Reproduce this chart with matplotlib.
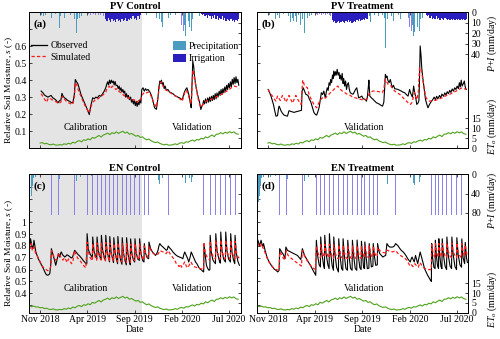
import numpy as np
import matplotlib
matplotlib.use("Agg")
import matplotlib.pyplot as plt
from matplotlib.patches import Patch
from matplotlib.lines import Line2D

plt.rcParams.update({
    "font.family": ["Liberation Serif", "DejaVu Serif"],
    "font.size": 7,
    "mathtext.fontset": "custom",
    "mathtext.rm": "Liberation Serif",
    "mathtext.it": "Liberation Serif:italic",
    "mathtext.bf": "Liberation Serif:bold",
    "axes.linewidth": 0.6,
})

# ---------------------------------------------------------------------------
# Time base: all series are given as (day offset from START, value)
# ---------------------------------------------------------------------------
START = np.datetime64("2018-09-27")
END_DAY = 680
CAL_END_DAY = 362
DATE_TICKS = ["2018-11-01", "2019-04-01", "2019-09-01", "2020-02-01", "2020-07-01"]
DATE_LABELS = ["Nov 2018", "Apr 2019", "Sep 2019", "Feb 2020", "Jul 2020"]

# Reference evapotranspiration (mm/day), weekly from START
ET0_WEEKLY = [3.6, 3.1, 3.4, 2.9, 3.0,
              2.5, 2.7, 2.1, 2.3,
              1.8, 1.6, 2.0, 1.5, 1.4,
              1.7, 1.5, 2.1, 1.8,
              2.4, 2.0, 2.9, 2.5,
              3.3, 3.7, 3.1, 4.1, 3.8,
              4.6, 4.1, 5.3, 4.9,
              5.6, 6.3, 5.5, 6.5,
              6.9, 7.5, 6.7, 7.7, 7.2,
              8.1, 7.3, 7.9, 8.4,
              7.5, 8.0, 6.9, 7.3,
              6.6, 5.9, 6.3, 5.3, 5.6,
              4.7, 4.1, 4.5, 3.6,
              3.1, 2.7, 3.0, 2.3,
              1.9, 1.6, 1.9, 1.4, 1.5,
              1.6, 2.1, 1.7, 2.4,
              2.7, 2.3, 3.1, 2.9,
              3.5, 4.0, 3.4, 4.3, 4.0,
              4.9, 4.5, 5.6, 5.1,
              5.9, 6.5, 5.7, 6.9,
              7.0, 7.7, 7.1, 7.9, 7.4,
              8.2, 7.6, 8.1, 7.2, 6.9]

# ---------------------------- PV site ---------------------------------------
PV_PRECIP = [(40, 2.5), (45, 4), (52, 3), (60, 6), (66, 3), (72, 5), (85, 2),
             (97, 15), (101, 4), (108, 9), (114, 5), (118, 8), (124, 4),
             (128, 9), (133, 3), (140, 12), (146, 6), (152, 20), (155, 6),
             (162, 5), (168, 4), (176, 3), (183, 2),
             (362, 4), (366, 9), (378, 3), (391, 4), (404, 3), (410, 5),
             (414, 34), (419, 6), (425, 9), (428, 14), (433, 4), (440, 8),
             (447, 5), (455, 3), (462, 6), (470, 3), (479, 4), (488, 5),
             (500, 12), (503, 23), (507, 19), (512, 8), (516, 14), (522, 18),
             (526, 6), (533, 5), (540, 3), (548, 4), (556, 2), (570, 3),
             (590, 2)]

PV_CTRL_IRR_EVENTS = [(190, 2), (198, 3), (206, 2), (214, 3), (222, 2.5),
                      (230, 3), (238, 4), (490, 12), (495, 18)]
PV_CTRL_IRR_BINS = [(246, 6), (250, 8), (254, 5), (258, 7), (262, 9), (266, 6),
                    (270, 8), (274, 7), (278, 9), (282, 6), (286, 8), (290, 7),
                    (294, 9), (298, 6), (302, 8), (306, 7), (310, 5), (314, 8),
                    (318, 6), (322, 7), (326, 5), (330, 6), (334, 4), (338, 6),
                    (342, 5), (346, 7), (350, 4), (354, 6), (358, 3),
                    (553, 2), (557, 3), (561, 2), (565, 4), (569, 3), (573, 5),
                    (577, 3), (581, 4), (585, 6), (589, 4), (593, 5), (597, 3),
                    (601, 6), (605, 4), (609, 7), (613, 5), (617, 6), (621, 4),
                    (625, 7), (629, 5), (633, 8), (637, 6), (641, 7), (645, 8),
                    (649, 6), (653, 8), (657, 7), (661, 9), (665, 7), (669, 8),
                    (673, 6)]

PV_TRT_IRR_EVENTS = [(190, 2), (196, 3), (202, 2), (208, 3), (214, 2), (220, 3),
                     (226, 2), (232, 3), (238, 4), (491, 14), (496, 18)]
PV_TRT_IRR_BINS = [(242, 7), (246, 9), (250, 8), (254, 10), (258, 9), (262, 8),
                   (266, 10), (270, 9), (274, 8), (278, 9), (282, 10), (286, 8),
                   (290, 9), (294, 7), (298, 9), (302, 8), (306, 10), (310, 9),
                   (314, 8), (318, 9), (322, 7), (326, 8), (330, 6), (334, 8),
                   (338, 7), (342, 6), (346, 7), (350, 5), (354, 6),
                   (545, 3), (549, 4), (553, 3), (557, 5), (561, 4), (565, 6),
                   (569, 5), (573, 6), (577, 4), (581, 6), (585, 5), (589, 7),
                   (593, 5), (597, 6), (601, 7), (605, 5), (609, 6), (613, 7),
                   (617, 6), (621, 7), (625, 6), (629, 7), (633, 6), (637, 7),
                   (641, 6), (645, 7), (649, 6), (653, 7), (657, 6), (661, 7),
                   (665, 6), (669, 7), (673, 6)]

PV_CTRL_OBS = [(38, .336), (44, .325), (49, .312), (55, .305), (60, .300), (65, .305),
               (70, .310), (76, .295), (81, .290), (87, .280), (92, .266), (97, .278),
               (102, .285), (105, .322), (109, .305), (113, .296), (118, .290), (124, .280),
               (130, .275), (135, .268), (140, .266), (145, .317), (148, .404), (152, .390),
               (156, .380), (161, .350), (166, .317), (172, .290), (179, .260), (186, .230),
               (193, .197), (198, .250), (204, .296), (209, .290), (214, .300), (219, .295),
               (225, .310), (230, .305), (236, .320), (241, .335), (246, .355), (249, .375),
               (252, .390), (255, .372), (258, .400), (261, .380), (264, .400), (267, .385),
               (270, .395), (273, .372), (276, .392), (279, .368), (283, .370), (286, .350),
               (289, .365), (292, .340), (295, .355), (298, .330), (301, .345), (304, .325),
               (307, .335), (310, .300), (313, .320), (316, .295), (319, .310), (322, .285),
               (326, .300), (329, .270), (332, .285), (335, .260), (338, .280), (341, .250),
               (344, .275), (347, .245), (350, .270), (353, .255), (356, .285), (359, .265),
               (362, .345), (366, .355), (370, .335), (374, .350), (377, .340), (382, .345),
               (388, .330), (393, .310), (398, .275), (403, .237), (409, .228), (414, .296),
               (417, .360), (420, .395), (423, .380), (425, .400), (428, .375), (431, .385),
               (434, .350), (437, .365), (441, .340), (446, .345), (451, .330), (457, .325),
               (462, .320), (468, .310), (473, .305), (478, .300), (483, .296), (488, .290),
               (492, .285), (496, .310), (499, .330), (503, .345), (507, .355), (511, .330),
               (515, .300), (518, .265), (521, .237), (524, .400), (526, .513), (529, .480),
               (531, .434), (534, .390), (537, .355), (542, .310), (547, .275), (552, .227),
               (555, .245), (558, .255), (561, .280), (564, .260), (567, .290), (570, .265),
               (574, .295), (577, .270), (580, .300), (583, .275), (586, .305), (589, .280),
               (592, .310), (595, .285), (598, .320), (601, .290), (604, .325), (607, .300),
               (611, .335), (614, .310), (617, .345), (620, .315), (623, .350), (626, .325),
               (629, .360), (632, .335), (635, .370), (638, .345), (641, .380), (644, .355),
               (647, .390), (650, .360), (653, .405), (656, .375), (659, .415), (662, .380),
               (665, .420), (668, .385), (671, .405), (674, .370)]

PV_CTRL_SIM = [(38, .320), (45, .300), (50, .285), (56, .270), (60, .290), (66, .295),
               (72, .285), (81, .280), (88, .270), (95, .262), (102, .272), (106, .305),
               (112, .290), (118, .278), (124, .268), (132, .262), (140, .257), (145, .300),
               (148, .385), (153, .370), (158, .340), (166, .306), (174, .270), (182, .240),
               (193, .207), (198, .240), (203, .267), (210, .280), (218, .285), (225, .296),
               (232, .305), (240, .318), (246, .330), (250, .350), (257, .365), (262, .350),
               (267, .365), (273, .355), (278, .345), (283, .350), (288, .335), (294, .326),
               (299, .320), (304, .310), (310, .305), (315, .300), (320, .295), (326, .290),
               (331, .285), (337, .285), (342, .275), (347, .270), (352, .280), (357, .275),
               (362, .305), (366, .320), (372, .330), (377, .325), (383, .330), (388, .325),
               (393, .300), (398, .280), (403, .260), (409, .240), (414, .300), (420, .380),
               (425, .390), (430, .365), (436, .345), (442, .340), (450, .330), (457, .322),
               (465, .310), (472, .305), (480, .295), (488, .285), (492, .275), (496, .300),
               (500, .325), (505, .340), (510, .320), (515, .290), (521, .260), (524, .380),
               (527, .460), (531, .420), (537, .355), (542, .300), (547, .260), (552, .240),
               (558, .255), (565, .270), (572, .280), (580, .285), (590, .290), (600, .300),
               (610, .310), (620, .318), (630, .330), (640, .340), (650, .355), (660, .365),
               (668, .360), (674, .350)]

PV_TRT_OBS = [(36, .345), (41, .325), (45, .306), (49, .280), (53, .256), (57, .220),
              (61, .188), (66, .190), (69, .230), (71, .247), (74, .235), (77, .220),
              (82, .205), (87, .194), (93, .190), (98, .188), (103, .220), (110, .215),
              (119, .210), (128, .215), (135, .218), (143, .222), (145, .336), (149, .355),
              (153, .335), (157, .317), (164, .310), (168, .290), (173, .272), (178, .240),
              (183, .210), (188, .198), (192, .194), (196, .215), (200, .240), (204, .290),
              (207, .326), (211, .315), (215, .336), (218, .310), (220, .296), (223, .330),
              (226, .355), (229, .340), (232, .385), (235, .370), (237, .404), (240, .385),
              (243, .430), (245, .410), (247, .454), (250, .425), (252, .450), (255, .430),
              (258, .464), (261, .430), (264, .445), (266, .410), (268, .430), (271, .400),
              (274, .440), (277, .380), (279, .410), (282, .365), (285, .395), (288, .345),
              (291, .375), (294, .385), (297, .345), (300, .326), (305, .320), (309, .317),
              (313, .330), (317, .345), (321, .355), (324, .325), (327, .296), (332, .300),
              (337, .306), (342, .290), (348, .287), (352, .276), (355, .300), (358, .355),
              (360, .400), (363, .306), (368, .296), (374, .286), (379, .276), (384, .267),
              (390, .262), (395, .257), (400, .250), (404, .247), (408, .270), (411, .360),
              (413, .434), (416, .415), (418, .424), (421, .400), (425, .385), (429, .404),
              (432, .380), (435, .355), (439, .370), (443, .350), (448, .348), (454, .345),
              (459, .340), (464, .336), (469, .330), (475, .326), (480, .316), (486, .306),
              (491, .345), (495, .320), (500, .300), (504, .365), (507, .330), (510, .306),
              (514, .257), (518, .265), (521, .280), (523, .420), (525, .602), (528, .540),
              (530, .474), (533, .420), (536, .375), (539, .330), (542, .287), (546, .260),
              (550, .237), (555, .257), (560, .272), (566, .287), (570, .300), (574, .285),
              (578, .305), (582, .290), (587, .310), (591, .295), (595, .318), (600, .305),
              (604, .325), (608, .312), (612, .332), (616, .320), (620, .340), (624, .328),
              (628, .348), (632, .335), (636, .355), (640, .345), (644, .365), (648, .350),
              (651, .385), (654, .360), (657, .400), (660, .365), (664, .380), (667, .395),
              (670, .360), (673, .345)]

PV_TRT_SIM = [(36, .345), (43, .320), (50, .306), (55, .290), (61, .276), (66, .306),
              (70, .295), (75, .280), (82, .310), (87, .295), (93, .270), (98, .290),
              (103, .310), (108, .290), (114, .265), (119, .285), (125, .310), (130, .290),
              (135, .275), (142, .257), (147, .400), (150, .385), (153, .365), (158, .360),
              (162, .355), (167, .320), (172, .296), (178, .275), (183, .257), (188, .245),
              (192, .237), (199, .267), (205, .285), (210, .296), (215, .290), (220, .295),
              (228, .310), (236, .326), (242, .335), (247, .345), (253, .355), (260, .365),
              (266, .350), (274, .336), (280, .330), (290, .317), (300, .310), (308, .300),
              (316, .296), (324, .292), (332, .287), (340, .285), (348, .283), (353, .290),
              (358, .310), (363, .326), (368, .332), (374, .336), (382, .335), (390, .333),
              (397, .330), (403, .326), (408, .345), (412, .404), (416, .395), (422, .375),
              (427, .370), (432, .365), (437, .350), (443, .336), (450, .326), (459, .317),
              (467, .302), (475, .287), (481, .276), (486, .267), (490, .262), (494, .257),
              (499, .270), (503, .300), (507, .326), (511, .300), (515, .285), (519, .330),
              (523, .474), (526, .470), (529, .454), (533, .410), (536, .375), (540, .330),
              (544, .296), (550, .282), (555, .276), (562, .278), (571, .280), (580, .284),
              (590, .292), (600, .300), (610, .310), (620, .316), (630, .326), (640, .335),
              (650, .345), (656, .352), (661, .355), (667, .350), (673, .345)]

# ---------------------------- EN site ---------------------------------------
EN_PRECIP = [(2, 20), (5, 57), (8, 45), (11, 25), (14, 8), (20, 5), (35, 4),
             (44, 6), (60, 3), (98, 10), (146, 8), (152, 14), (165, 6), (200, 3),
             (415, 12), (419, 20), (428, 8), (495, 10), (503, 18), (507, 22),
             (515, 8), (522, 16), (526, 6)]

EN_CTRL_IRR = [(71, 85), (94, 85), (145, 85), (186, 85), (204, 85), (218, 85),
               (232, 85), (246, 85), (259, 85), (272, 85), (285, 85), (299, 85),
               (313, 85), (326, 85), (340, 85), (355, 85), (370, 85), (385, 85),
               (447, 85), (562, 85), (582, 85), (600, 85), (616, 85), (632, 85),
               (648, 85), (662, 85)]

EN_TRT_IRR = [(73, 85), (94, 85), (146, 85), (191, 85), (205, 85), (218, 85),
              (233, 85), (247, 85), (263, 85), (277, 85), (292, 85), (307, 85),
              (322, 85), (336, 85), (347, 85), (361, 85), (374, 85), (388, 85),
              (446, 85), (562, 85), (574, 85), (585, 85), (596, 85), (611, 85),
              (627, 85), (643, 85), (659, 85)]

EN_CTRL_OBS = [(0, .880), (2, .810), (4, .861), (7, .820), (10, .777), (13, .800),
               (15, .848), (18, .800), (21, .749), (25, .720), (29, .692), (34, .665),
               (40, .636), (45, .610), (50, .580), (54, .560), (58, .552), (62, .555),
               (66, .566), (69, .640), (71, .777), (74, .750), (77, .720), (81, .680),
               (85, .636), (89, .680), (94, .735), (96, .720), (98, .706), (101, .740),
               (103, .749), (107, .725), (111, .715), (114, .706), (118, .715), (121, .725),
               (125, .720), (129, .712), (132, .705), (135, .698), (139, .705), (143, .740),
               (146, .763), (150, .750), (153, .740), (157, .727), (161, .718), (165, .706),
               (170, .690), (174, .675), (178, .664), (182, .650), (185, .648),
               (186, .904), (190, .770), (196, .730), (203, .700),
               (204, .876), (208, .760), (213, .715), (217, .692),
               (218, .876), (222, .760), (227, .710), (231, .685),
               (232, .890), (236, .765), (241, .705), (245, .675),
               (246, .890), (250, .760), (255, .700), (258, .665),
               (259, .880), (263, .750), (268, .690), (271, .660),
               (272, .870), (276, .745), (281, .685), (284, .650),
               (285, .880), (289, .745), (294, .680), (298, .645),
               (299, .870), (303, .740), (308, .675), (312, .640),
               (313, .870), (317, .740), (322, .670), (325, .640),
               (326, .860), (330, .735), (335, .680), (339, .664),
               (340, .861), (344, .740), (349, .690), (354, .678),
               (355, .861), (359, .740), (365, .675), (369, .664),
               (370, .820), (374, .740), (379, .700), (384, .692),
               (385, .833), (390, .780), (396, .749), (401, .735), (406, .720), (410, .735),
               (414, .763), (417, .800), (420, .820), (424, .805), (430, .791), (436, .775),
               (441, .763), (444, .770), (447, .800), (451, .785), (454, .777), (458, .765),
               (462, .749), (467, .735), (473, .720), (478, .712), (484, .706), (489, .700),
               (494, .692), (497, .725), (500, .749), (504, .725), (507, .706), (510, .690),
               (513, .664), (517, .700), (521, .749), (525, .725), (528, .706), (531, .690),
               (535, .664), (539, .650), (542, .636), (545, .620), (548, .608), (552, .600),
               (555, .594), (558, .585), (561, .580),
               (562, .820), (566, .720), (570, .636), (574, .610), (578, .594), (581, .600),
               (582, .890), (586, .740), (591, .680), (595, .664), (599, .650),
               (600, .904), (604, .760), (609, .700), (613, .660), (615, .655),
               (616, .918), (620, .760), (625, .690), (631, .664),
               (632, .918), (636, .760), (641, .690), (647, .664),
               (648, .904), (652, .750), (657, .680), (661, .650),
               (662, .890), (666, .740), (671, .670), (676, .636)]

EN_CTRL_SIM = [(0, .800), (3, .780), (6, .820), (10, .760), (15, .790), (20, .740),
               (25, .720), (30, .690), (36, .660), (42, .630), (48, .610), (54, .600),
               (60, .590), (66, .600), (70, .640), (72, .760), (76, .740), (80, .700),
               (85, .680), (90, .690), (94, .740), (98, .720), (103, .700), (108, .680),
               (113, .700), (118, .680), (122, .660), (126, .690), (131, .670), (136, .650),
               (141, .680), (145, .760), (150, .730), (155, .700), (160, .680), (165, .670),
               (170, .650), (176, .630), (182, .615),
               (186, .830), (190, .750), (196, .700), (203, .675),
               (204, .820), (208, .745), (213, .700), (217, .680),
               (218, .825), (222, .745), (227, .700), (231, .680),
               (232, .830), (236, .745), (241, .695), (245, .675),
               (246, .830), (250, .745), (255, .695), (258, .670),
               (259, .825), (263, .740), (268, .690), (271, .670),
               (272, .820), (276, .740), (281, .690), (284, .665),
               (285, .825), (289, .740), (294, .690), (298, .665),
               (299, .820), (303, .735), (308, .685), (312, .660),
               (313, .820), (317, .735), (322, .685), (325, .660),
               (326, .815), (330, .735), (335, .690), (339, .675),
               (340, .820), (344, .740), (349, .700), (354, .685),
               (355, .820), (359, .740), (365, .695), (369, .680),
               (370, .800), (374, .745), (379, .715), (384, .705),
               (385, .800), (390, .770), (396, .745), (405, .725), (414, .730), (420, .760),
               (430, .750), (440, .735), (447, .760), (455, .725), (462, .700), (468, .680),
               (473, .650), (478, .640), (482, .625), (486, .645), (490, .620), (495, .640),
               (500, .665), (505, .630), (510, .615), (515, .640), (520, .665), (525, .640),
               (530, .625), (535, .620), (541, .615), (548, .610), (555, .605), (561, .600),
               (562, .830), (566, .745), (572, .705), (581, .680),
               (582, .840), (586, .750), (592, .705), (599, .690),
               (600, .850), (604, .755), (610, .705), (615, .690),
               (616, .850), (620, .755), (626, .705), (631, .690),
               (632, .850), (636, .755), (642, .705), (647, .690),
               (648, .845), (652, .750), (658, .705), (661, .690),
               (662, .840), (666, .750), (672, .705), (676, .695)]

EN_TRT_OBS = [(0, .860), (3, .848), (8, .800), (13, .848), (18, .791), (21, .820),
              (26, .763), (32, .706), (39, .664), (45, .640), (50, .622), (55, .605),
              (61, .594), (67, .580), (71, .594), (73, .777), (79, .749), (85, .727),
              (90, .692), (93, .791), (98, .763), (108, .749), (119, .735), (130, .720),
              (141, .685), (146, .777), (153, .720), (162, .678), (172, .636), (183, .580),
              (189, .552),
              (191, .848), (195, .720), (200, .640), (204, .622),
              (205, .876), (209, .730), (214, .640), (217, .608),
              (218, .890), (222, .740), (228, .640), (232, .608),
              (233, .904), (237, .740), (242, .630), (246, .594),
              (247, .876), (251, .730), (256, .620), (262, .580),
              (263, .861), (267, .720), (272, .610), (276, .594),
              (277, .861), (281, .720), (286, .610), (291, .594),
              (292, .848), (296, .715), (301, .610), (306, .594),
              (307, .848), (311, .715), (316, .610), (321, .594),
              (322, .850), (326, .715), (331, .615), (335, .600),
              (336, .840), (340, .715), (343, .615), (346, .608),
              (347, .834), (351, .710), (355, .608), (360, .612),
              (361, .820), (365, .705), (368, .622), (373, .630),
              (374, .820), (378, .710), (382, .636), (387, .640),
              (388, .820), (392, .760), (395, .735), (400, .720), (405, .706), (410, .715),
              (414, .720), (418, .820), (423, .800), (427, .791), (432, .790), (437, .791),
              (442, .800), (446, .820), (450, .810), (454, .800), (459, .780), (464, .763),
              (470, .750), (475, .735), (480, .715), (485, .692), (490, .675), (493, .664),
              (496, .690), (499, .706), (503, .680), (506, .665), (510, .720), (513, .690),
              (517, .650), (521, .700), (525, .749), (528, .720), (531, .692), (535, .650),
              (539, .608), (544, .580), (549, .552), (554, .530), (558, .510), (561, .500),
              (562, .820), (565, .700), (569, .620), (573, .608),
              (574, .848), (577, .720), (581, .630), (584, .610),
              (585, .861), (588, .720), (592, .625), (595, .608),
              (596, .861), (600, .720), (605, .630), (610, .600),
              (611, .876), (615, .730), (621, .630), (626, .608),
              (627, .876), (631, .730), (637, .625), (642, .600),
              (643, .870), (647, .730), (653, .640), (658, .620),
              (659, .860), (663, .700), (668, .650), (670, .830), (674, .700), (677, .660)]

EN_TRT_SIM = [(0, .820), (5, .810), (10, .790), (15, .820), (20, .780), (25, .750),
              (32, .700), (40, .660), (48, .630), (55, .610), (62, .600), (68, .595),
              (72, .600), (73, .750), (78, .730), (84, .700), (90, .680), (94, .760),
              (100, .720), (108, .700), (115, .685), (122, .670), (130, .655), (138, .640),
              (143, .630), (146, .760), (152, .720), (158, .690), (165, .660), (172, .635),
              (180, .615), (188, .600),
              (191, .800), (195, .750), (200, .715), (204, .700),
              (205, .810), (209, .755), (214, .720), (217, .705),
              (218, .815), (222, .755), (228, .715), (232, .700),
              (233, .815), (237, .755), (242, .710), (246, .695),
              (247, .810), (251, .750), (256, .705), (262, .690),
              (263, .810), (267, .750), (272, .705), (276, .695),
              (277, .805), (281, .745), (286, .705), (291, .690),
              (292, .805), (296, .745), (301, .700), (306, .690),
              (307, .800), (311, .745), (316, .700), (321, .690),
              (322, .800), (326, .745), (331, .705), (335, .695),
              (336, .800), (340, .745), (343, .710), (346, .700),
              (347, .800), (351, .745), (355, .710), (360, .700),
              (361, .800), (365, .745), (368, .715), (373, .705),
              (374, .800), (378, .745), (382, .720), (387, .710),
              (388, .790), (395, .760), (405, .745), (414, .740), (418, .765), (427, .755),
              (437, .750), (446, .760), (454, .735), (464, .715), (474, .700), (482, .680),
              (488, .650), (492, .630), (497, .640), (502, .625), (508, .650), (514, .630),
              (519, .620), (524, .660), (529, .640), (534, .620), (540, .610), (546, .605),
              (552, .600), (558, .600), (561, .598),
              (562, .810), (566, .750), (570, .715), (573, .700),
              (574, .820), (578, .755), (581, .720), (584, .705),
              (585, .820), (589, .755), (592, .720), (595, .705),
              (596, .820), (600, .755), (605, .715), (610, .700),
              (611, .825), (615, .755), (621, .715), (626, .700),
              (627, .825), (631, .755), (637, .715), (642, .700),
              (643, .825), (647, .755), (653, .715), (658, .700),
              (659, .820), (663, .750), (668, .710), (670, .810), (674, .745), (677, .720)]

# ---------------------------------------------------------------------------
C_OBS = "black"
C_SIM = "#ff1a1a"
C_ET = "#4ea21b"
C_PRECIP = "#4a9cc0"
C_IRR = "#2a1ebe"
C_IRR_EVENT = "#8a82ea"
C_CAL = "#e4e4e4"


def to_dt(days):
    return START + np.asarray(days, dtype=int).astype("timedelta64[D]")


def unzip(pairs):
    d, v = zip(*pairs)
    return to_dt(d), np.asarray(v, dtype=float)


ET0_DAYS = np.arange(len(ET0_WEEKLY)) * 7
ET0_VALUES = np.asarray(ET0_WEEKLY)


def panel(ax, title, tag, obs, sim, precip, irr_events, irr_bins, et_from,
          s_lim, s_ticks, s_labels, pi_lim, pi_ticks, et_lim,
          show_cal, left_col, bottom_row, text_y, right_label_y):
    x0, x1 = START, START + np.timedelta64(END_DAY, "D")
    if show_cal:
        ax.axvspan(x0, START + np.timedelta64(CAL_END_DAY, "D"),
                   color=C_CAL, lw=0, zorder=0)
    ox, oy = unzip(obs)
    sx, sy = unzip(sim)
    ax.plot(ox, oy, color=C_OBS, lw=0.8, zorder=3)
    ax.plot(sx, sy, color=C_SIM, lw=0.9, ls=(0, (2.6, 1.8)), zorder=4)
    ax.set_xlim(x0, x1)
    ax.set_ylim(*s_lim)
    ax.set_yticks(s_ticks)
    ax.set_yticklabels(s_labels if left_col else [""] * len(s_ticks))
    ax.set_xticks([np.datetime64(t) for t in DATE_TICKS])
    ax.set_xticklabels(DATE_LABELS if bottom_row else [""] * len(DATE_TICKS))
    ax.tick_params(axis="both", direction="in", length=2.2, width=0.5,
                   top=True, pad=2)
    ax.set_title(title, fontweight="bold", fontsize=7.5, pad=2.5)
    ax.text(0.022, 0.915, tag, transform=ax.transAxes, fontweight="bold",
            fontsize=8, va="center", ha="left", zorder=6)
    if left_col:
        ax.set_ylabel("Relative Soil Moisture, $s$ (-)", fontsize=6.8)
        ax.yaxis.set_label_coords(-0.068, 0.43)
    if bottom_row:
        ax.set_xlabel("Date", labelpad=0.5)

    # precipitation + irrigation on an inverted axis hanging from the top
    axp = ax.twinx()
    px, pv = unzip(precip)
    axp.bar(px, pv, width=2.0, color=C_PRECIP, lw=0, align="center")
    if irr_events:
        ix, iv = unzip(irr_events)
        axp.bar(ix, iv, width=3.2, color=C_IRR_EVENT, lw=0)
    if irr_bins:
        bx, bv = unzip(irr_bins)
        axp.bar(bx, bv, width=4.0, color=C_IRR, lw=0)
    axp.set_ylim(*pi_lim)
    axp.set_yticks(pi_ticks)
    axp.tick_params(axis="y", direction="in", length=2.2, width=0.5, pad=2,
                    labelright=not left_col)

    # reference evapotranspiration along the bottom
    axe = ax.twinx()
    keep = ET0_DAYS >= et_from
    axe.plot(to_dt(ET0_DAYS[keep]), ET0_VALUES[keep], color=C_ET, lw=0.8)
    axe.set_ylim(*et_lim)
    axe.set_yticks([0, 5, 10, 15])
    axe.tick_params(axis="y", direction="in", length=2.2, width=0.5, pad=2,
                    labelright=not left_col)

    if not left_col:
        ax.text(1.115, right_label_y[0], "$P$+$I$ (mm/day)", transform=ax.transAxes,
                rotation=90, ha="center", va="center")
        ax.text(1.115, right_label_y[1], "$ET_o$ (mm/day)", transform=ax.transAxes,
                rotation=90, ha="center", va="center")

    if show_cal:
        ax.text(START + np.timedelta64(181, "D"), text_y, "Calibration",
                ha="center", va="center", zorder=5)
        ax.text(START + np.timedelta64(524, "D"), text_y, "Validation",
                ha="center", va="center", zorder=5)
    else:
        ax.text(START + np.timedelta64(343, "D"), text_y, "Validation",
                ha="center", va="center", zorder=5)
    return axe


fig = plt.figure(figsize=(5.0, 3.39), dpi=100)
LX, RX, W = 0.0586, 0.514, 0.4227
TOP_B, TOP_H = 0.5634, 0.4003
BOT_B, BOT_H = 0.0776, 0.4077

ax_a = fig.add_axes([LX, TOP_B, W, TOP_H])
ax_b = fig.add_axes([RX, TOP_B, W, TOP_H])
ax_c = fig.add_axes([LX, BOT_B, W, BOT_H])
ax_d = fig.add_axes([RX, BOT_B, W, BOT_H])

PV_S_TICKS = [0, .1, .2, .3, .4, .5, .6, .7, .8]
PV_S_LABELS = ["", "0.1", "0.2", "0.3", "0.4", "0.5", "0.6", "", ""]
EN_S_TICKS = [.3, .4, .5, .6, .7, .8, .9, 1.0, 1.1, 1.2, 1.3]
EN_S_LABELS = ["", "0.4", "0.5", "0.6", "0.7", "0.8", "0.9", "1", "", "", ""]

top_a = panel(ax_a, "PV Control", "(a)", PV_CTRL_OBS, PV_CTRL_SIM, PV_PRECIP,
              PV_CTRL_IRR_EVENTS, PV_CTRL_IRR_BINS, 35,
              (0, 0.8), PV_S_TICKS, PV_S_LABELS, (130, 0), [0, 10, 20, 30, 40],
              (0, 68), True, True, False, 0.12, None)
panel(ax_b, "PV Treatment", "(b)", PV_TRT_OBS, PV_TRT_SIM, PV_PRECIP,
      PV_TRT_IRR_EVENTS, PV_TRT_IRR_BINS, 35,
      (0, 0.8), PV_S_TICKS, PV_S_LABELS, (130, 0), [0, 10, 20, 30, 40],
      (0, 68), False, False, False, 0.12, (0.77, 0.16))
panel(ax_c, "EN Control", "(c)", EN_CTRL_OBS, EN_CTRL_SIM, EN_PRECIP,
      EN_CTRL_IRR, None, 0,
      (0.235, 1.405), EN_S_TICKS, EN_S_LABELS, (290, 0), [0, 40, 80],
      (0, 71), True, True, True, 0.442, None)
panel(ax_d, "EN Treatment", "(d)", EN_TRT_OBS, EN_TRT_SIM, EN_PRECIP,
      EN_TRT_IRR, None, 0,
      (0.235, 1.405), EN_S_TICKS, EN_S_LABELS, (290, 0), [0, 40, 80],
      (0, 71), False, False, True, 0.442, (0.815, 0.10))

# legends in panel (a)
line_handles = [Line2D([], [], color=C_OBS, lw=0.9),
                Line2D([], [], color=C_SIM, lw=0.9, ls=(0, (2.6, 1.8)))]
leg1 = top_a.legend(line_handles, ["Observed", "Simulated"], loc="upper left",
                    bbox_to_anchor=(0.0, 0.80), frameon=False, fontsize=7,
                    handlelength=1.6, handletextpad=0.35, labelspacing=0.25,
                    borderaxespad=0.0, borderpad=0.2)
top_a.add_artist(leg1)
patch_handles = [Patch(facecolor=C_PRECIP, edgecolor="none"),
                 Patch(facecolor=C_IRR, edgecolor="none")]
top_a.legend(patch_handles, ["Precipitation", "Irrigation"], loc="upper right",
             bbox_to_anchor=(1.0, 0.80), frameon=False, fontsize=7,
             handlelength=1.3, handleheight=1.0, handletextpad=0.3,
             labelspacing=0.25, borderaxespad=0.0, borderpad=0.2)

fig.savefig("out.png", dpi=100)
